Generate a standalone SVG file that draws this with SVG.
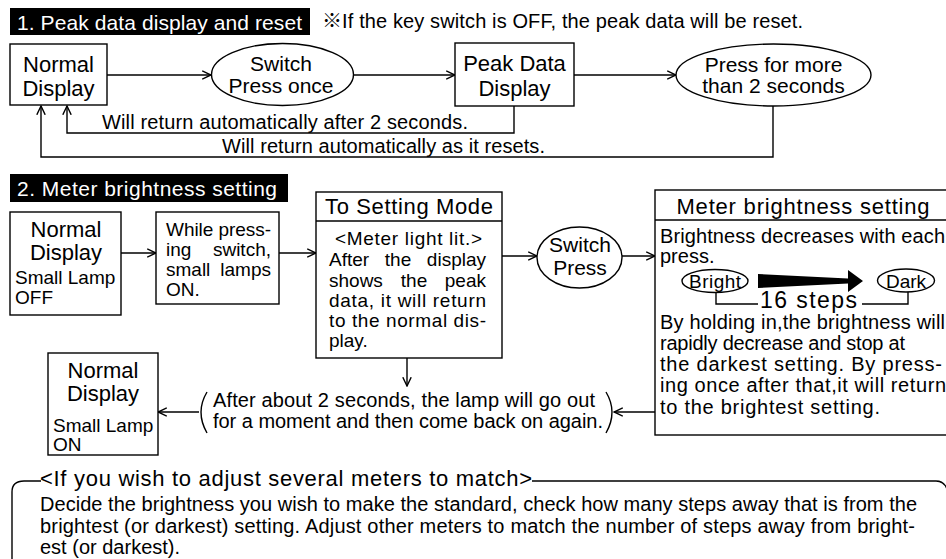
<svg xmlns="http://www.w3.org/2000/svg" width="946" height="559" viewBox="0 0 946 559">
<defs>
<style>
text{font-family:"Liberation Sans","Noto Sans CJK JP",sans-serif;fill:#000}
.w{fill:#fff}
.c{text-anchor:middle}
.e{text-anchor:end}
.b{fill:#fff;stroke:#000;stroke-width:1.4}
.ln{fill:none;stroke:#000;stroke-width:1.4}
.a{marker-end:url(#ah)}
.f22{font-size:22px}.f21{font-size:21px}.f20{font-size:20px}.f19{font-size:19px}.f18{font-size:18px}
</style>
<marker id="ah" viewBox="0 0 10 10" refX="9.3" refY="5" markerWidth="10" markerHeight="10" markerUnits="userSpaceOnUse" orient="auto">
<path d="M0.5,0.8 L9.3,5 L0.5,9.2" fill="none" stroke="#000" stroke-width="1.4"/>
</marker>
</defs>
<rect width="946" height="559" fill="#fff"/>

<!-- Section 1 -->
<g id="title1">
<rect x="10" y="8" width="300" height="27" fill="#000"/>
<text class="w f21" x="17" y="30" textLength="285">1. Peak data display and reset</text>
</g>
<text id="note1" class="f20" x="322" y="28" textLength="481">※If the key switch is OFF, the peak data will be reset.</text>

<g id="connectors1">
<line class="ln a" x1="107" y1="75" x2="211" y2="75"/>
<line class="ln a" x1="353" y1="75" x2="455" y2="75"/>
<line class="ln a" x1="574" y1="75" x2="676" y2="75"/>
<polyline class="ln a" points="514,106 514,133 67,133 67,106"/>
<polyline class="ln a" points="773,106 773,157 41,157 41,106"/>
<text class="f20" x="102" y="128.5" textLength="366">Will return automatically after 2 seconds.</text>
<text class="f20" x="222" y="152.5" textLength="323">Will return automatically as it resets.</text>
</g>

<g id="s1-normal">
<rect class="b" x="10" y="44" width="97" height="61"/>
<text class="c f22" x="58.5" y="72">Normal</text>
<text class="c f22" x="58.5" y="96">Display</text>
</g>
<g id="s1-switch">
<ellipse class="b" cx="282.5" cy="74.5" rx="71" ry="31"/>
<text class="c f21" x="281" y="71">Switch</text>
<text class="c f21" x="281" y="93">Press once</text>
</g>
<g id="s1-peak">
<rect class="b" x="455" y="43" width="119" height="63"/>
<text class="c f22" x="514.5" y="71">Peak Data</text>
<text class="c f22" x="514.5" y="96">Display</text>
</g>
<g id="s1-press2">
<ellipse class="b" cx="773.5" cy="75" rx="97.5" ry="31"/>
<text class="c f21" x="773.5" y="72">Press for more</text>
<text class="c f21" x="773.5" y="93">than 2 seconds</text>
</g>

<!-- Section 2 -->
<g id="title2">
<rect x="10" y="174" width="278" height="28" fill="#000"/>
<text class="w f21" x="17" y="195.5" textLength="260">2. Meter brightness setting</text>
</g>

<g id="connectors2">
<line class="ln a" x1="121" y1="253" x2="156" y2="253"/>
<line class="ln a" x1="279" y1="253" x2="316" y2="253"/>
<line class="ln a" x1="502" y1="256" x2="537" y2="256"/>
<line class="ln a" x1="622" y1="256" x2="655" y2="256"/>
<line class="ln a" x1="655" y1="412" x2="614" y2="412"/>
<line class="ln a" x1="199" y1="412" x2="158" y2="412"/>
<line class="ln a" x1="407" y1="358" x2="407" y2="386"/>
</g>

<g id="s2-normal">
<rect class="b" x="10" y="212" width="111" height="103"/>
<text class="c f22" x="66" y="237">Normal</text>
<text class="c f22" x="66" y="260">Display</text>
<text class="f19" x="15" y="284">Small Lamp</text>
<text class="f19" x="15" y="304">OFF</text>
</g>

<g id="s2-while">
<rect class="b" x="156" y="212" width="123" height="92"/>
<text class="f19" x="166" y="236" textLength="105">While press-</text>
<text class="f19" x="166" y="256">ing</text>
<text class="f19 e" x="271" y="256">switch,</text>
<text class="f19" x="166" y="276">small</text>
<text class="f19 e" x="271" y="276">lamps</text>
<text class="f19" x="166" y="296">ON.</text>
</g>

<g id="s2-setting">
<rect class="b" x="316" y="192" width="186" height="166"/>
<line class="ln" x1="316" y1="221" x2="502" y2="221"/>
<text class="c f22" x="409" y="214" textLength="168">To Setting Mode</text>
<text class="c f19" x="408.5" y="245" textLength="147">&lt;Meter light lit.&gt;</text>
<text class="f19" x="329" y="266">After</text>
<text class="f19 c" x="398" y="266">the</text>
<text class="f19 e" x="486" y="266">display</text>
<text class="f19" x="329" y="287">shows</text>
<text class="f19 c" x="414" y="287">the</text>
<text class="f19 e" x="486" y="287">peak</text>
<text class="f19" x="329" y="307" textLength="157">data, it will return</text>
<text class="f19" x="329" y="327" textLength="157">to the normal dis-</text>
<text class="f19" x="329" y="347">play.</text>
</g>

<g id="s2-switch">
<ellipse class="b" cx="579.5" cy="257.5" rx="42.5" ry="30.5"/>
<text class="c f21" x="580" y="252">Switch</text>
<text class="c f21" x="580" y="275">Press</text>
</g>

<g id="s2-meter">
<rect class="b" x="655" y="190" width="300" height="245"/>
<line class="ln" x1="655" y1="220" x2="946" y2="220"/>
<text class="c f22" x="803" y="214" textLength="253">Meter brightness setting</text>
<text class="f20" x="660" y="243" textLength="285">Brightness decreases with each</text>
<text class="f20" x="660" y="263">press.</text>
<ellipse class="ln" cx="715" cy="281" rx="33" ry="11.5"/>
<text class="c" style="font-size:19px" x="715" y="288" textLength="52">Bright</text>
<polygon points="758,274 848,278.5 848,270 863,281 848,292 848,283.5 758,288" fill="#000"/>
<ellipse class="ln" cx="906" cy="280.5" rx="28.5" ry="11.5"/>
<text class="c" style="font-size:19px" x="906" y="287.5">Dark</text>
<polyline class="ln" points="716,292.5 716,304 758,304"/>
<text x="760" y="308" style="font-size:23px" textLength="97">16 steps</text>
<polyline class="ln" points="862,304 908,304 908,292"/>
<text class="f20" x="660" y="328.5" textLength="285">By holding in,the brightness will</text>
<text class="f20" x="660" y="349.5" textLength="245">rapidly decrease and stop at</text>
<text class="f20" x="660" y="370.5" textLength="282">the darkest setting. By press-</text>
<text class="f20" x="660" y="392" textLength="286">ing once after that,it will return</text>
<text class="f20" x="660" y="413.5" textLength="220">to the brightest setting.</text>
</g>

<g id="s2-note">
<path class="ln" d="M207,392 Q195,412 207,433"/>
<path class="ln" d="M606,392 Q618,412 606,433"/>
<text class="f20" x="213" y="407" textLength="382">After about 2 seconds, the lamp will go out</text>
<text class="f20" x="213" y="428" textLength="390">for a moment and then come back on again.</text>
</g>

<g id="s2-normal2">
<rect class="b" x="48" y="353" width="110" height="102"/>
<text class="c f22" x="103" y="378">Normal</text>
<text class="c f22" x="103" y="401">Display</text>
<text class="f19" x="53" y="432">Small Lamp</text>
<text class="f19" x="53" y="451">ON</text>
</g>

<!-- Bottom note -->
<g id="multi-meter">
<path class="ln" d="M12,560 L12,492 Q12,481 24,481 L41,481"/>
<path class="ln" d="M532,481 L936,481 Q944,481 947,489"/>
<text x="40" y="485.5" class="f22" textLength="492">&lt;If you wish to adjust several meters to match&gt;</text>
<text class="f20" x="40" y="511" textLength="877">Decide the brightness you wish to make the standard, check how many steps away that is from the</text>
<text class="f20" x="40" y="533" textLength="875">brightest (or darkest) setting. Adjust other meters to match the number of steps away from bright-</text>
<text class="f20" x="40" y="554">est (or darkest).</text>
</g>
</svg>
